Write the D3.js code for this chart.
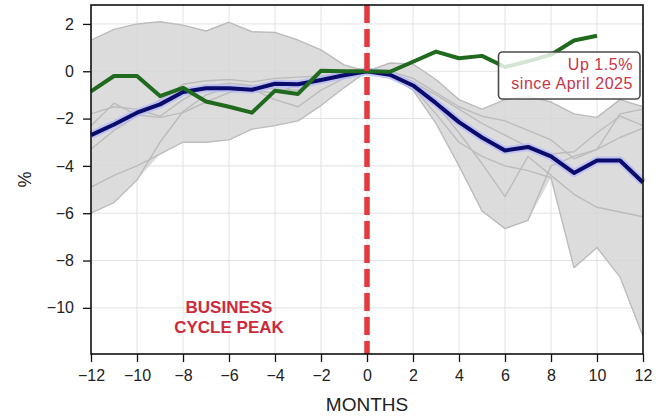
<!DOCTYPE html>
<html>
<head>
<meta charset="utf-8">
<script src="https://cdn.jsdelivr.net/npm/d3@7/dist/d3.min.js"></script>
<style>
  html, body { margin: 0; padding: 0; background: #fff; }
  svg { display: block; font-family: "Liberation Sans", Arial, Helvetica, sans-serif; }
</style>
</head>
<body>
<svg id="chart" width="665" height="416"></svg>
<script>
// Months relative to the business cycle peak
const months = [-12, -11, -10, -9, -8, -7, -6, -5, -4, -3, -2, -1, 0, 1, 2, 3, 4, 5, 6, 7, 8, 9, 10, 11, 12];

// Past cycles, % change from the peak month
const cycleA = [1.32, 1.77, 2.0, 2.09, 1.95, 1.7, 2.07, 1.67, 1.64, 1.32, 0.9, 0.27, 0,
                0.35, 0.3, -0.35, -1.2, -1.6, -1.2, -1.05, -1.3, -1.8, -1.95, -1.2, -1.5];
const cycleB = [-6.0, -5.55, -4.6, -3.0, -1.7, -1.0, -0.7, -0.85, -0.9, -0.6, -0.35, -0.15, 0,
                -0.05, -0.45, -1.0, -1.6, -2.2, -2.7, -3.2, -3.5, -3.4, -2.6, -1.9, -2.3];
const cycleC = [-4.9, -4.4, -4.0, -3.5, -3.0, -3.0, -2.9, -2.45, -2.3, -2.1, -1.45, -0.7, 0,
                -0.2, -0.8, -2.2, -4.0, -5.9, -6.65, -6.3, -4.0, -3.6, -3.3, -2.8, -2.4];
const cycleD = [-2.3, -1.35, -1.85, -1.95, -1.75, -1.3, -0.9, -0.75, -1.2, -1.5, -0.8, -0.3, 0,
                -0.1, -0.55, -1.4, -2.6, -3.9, -5.3, -3.6, -4.4, -5.2, -5.75, -5.95, -6.15];
const cycleE = [-3.3, -2.5, -1.9, -1.2, -0.55, -0.4, -0.35, -0.45, -0.3, -0.25, -0.2, -0.05, 0,
                -0.15, -0.7, -1.8, -3.0, -3.6, -4.0, -4.2, -4.5, -8.3, -7.45, -8.7, -11.2];
const cycleF = [-1.8, -1.5, -1.6, -1.9, -1.2, -0.65, -0.5, -0.6, -0.75, -0.8, -0.45, -0.2, 0,
                0.0, -0.3, -0.9, -1.5, -1.9, -2.1, -2.5, -2.9, -3.7, -3.3, -1.8, -1.6];
const pastCycles = [cycleA, cycleB, cycleC, cycleD, cycleE, cycleF];

// Average of past cycles
const averageCycle = [-2.7, -2.25, -1.75, -1.4, -0.88, -0.72, -0.72, -0.78, -0.53, -0.55, -0.37, -0.17, 0,
                      -0.15, -0.6, -1.35, -2.15, -2.8, -3.35, -3.2, -3.6, -4.3, -3.77, -3.77, -4.7];

// Current cycle (through month 10)
const currentMonths = [-12, -11, -10, -9, -8, -7, -6, -5, -4, -3, -2, -1, 0, 1, 2, 3, 4, 5, 6, 7, 8, 9, 10];
const currentCycle = [-0.85, -0.2, -0.2, -1.05, -0.7, -1.28, -1.5, -1.75, -0.82, -0.96, 0.02, 0, 0,
                      -0.02, 0.4, 0.83, 0.55, 0.65, 0.18, 0.42, 0.7, 1.3, 1.5];

const xTicks = [-12, -10, -8, -6, -4, -2, 0, 2, 4, 6, 8, 10, 12];
const yTicks = [-10, -8, -6, -4, -2, 0, 2];
const peakLabel = ["BUSINESS", "CYCLE PEAK"];
const noteLabel = ["Up 1.5%", "since April 2025"];

const svg = d3.select("#chart");
const plotL = 91, plotR = 643, plotT = 5, plotB = 354;

const x = d3.scaleLinear().domain([-12, 12]).range([plotL, plotR]);
const y = d3.scaleLinear().domain([-11.95, 2.8]).range([plotB, plotT]);

// Grid
const grid = svg.append("g");
grid.selectAll(".gx").data(xTicks).join("line")
  .attr("x1", d => x(d)).attr("x2", d => x(d))
  .attr("y1", plotT).attr("y2", plotB)
  .attr("stroke", "#e2e2e2").attr("stroke-width", 1);
grid.selectAll(".gy").data(yTicks).join("line")
  .attr("x1", plotL).attr("x2", plotR)
  .attr("y1", d => y(d)).attr("y2", d => y(d))
  .attr("stroke", "#e2e2e2").attr("stroke-width", 1);

// Range band of past cycles
const band = months.map((m, i) => ({
  m,
  lo: d3.min(pastCycles, c => c[i]),
  hi: d3.max(pastCycles, c => c[i])
}));
svg.append("path").datum(band)
  .attr("d", d3.area().x(d => x(d.m)).y0(d => y(d.lo)).y1(d => y(d.hi)))
  .attr("fill", "#d6d6d6").attr("fill-opacity", 0.85);

const line = d3.line().x(d => x(d[0])).y(d => y(d[1]));

svg.append("g").selectAll("path").data(pastCycles).join("path")
  .attr("d", c => line(months.map((m, i) => [m, c[i]])))
  .attr("fill", "none").attr("stroke", "#bcbcbc").attr("stroke-width", 1.4)
  .attr("stroke-linejoin", "round");

// Average line with soft halo
const avgPts = months.map((m, i) => [m, averageCycle[i]]);
svg.append("path").attr("d", line(avgPts))
  .attr("fill", "none").attr("stroke", "#b8bcf5").attr("stroke-width", 8)
  .attr("stroke-linejoin", "round").attr("stroke-opacity", 0.8);
svg.append("path").attr("d", line(avgPts))
  .attr("fill", "none").attr("stroke", "#0b0b6b").attr("stroke-width", 4)
  .attr("stroke-linejoin", "round");

// Current cycle
svg.append("path").attr("d", line(currentMonths.map((m, i) => [m, currentCycle[i]])))
  .attr("fill", "none").attr("stroke", "#1f6a1f").attr("stroke-width", 4)
  .attr("stroke-linejoin", "round");

// Peak marker
svg.append("line")
  .attr("x1", x(0)).attr("x2", x(0)).attr("y1", plotT).attr("y2", plotB)
  .attr("stroke", "#e23a3f").attr("stroke-width", 5.5)
  .attr("stroke-dasharray", "18,6");

svg.append("g").selectAll("text").data(peakLabel).join("text")
  .attr("x", x(-6.0)).attr("y", (d, i) => y(-10.2) + i * 20)
  .attr("text-anchor", "middle")
  .attr("font-size", 17).attr("font-weight", "bold")
  .attr("fill", "#cc2a3a")
  .text(d => d);

// Annotation box
const boxX0 = 498.5, boxX1 = 640, boxY0 = 52, boxY1 = 99;
svg.append("rect")
  .attr("x", boxX0).attr("y", boxY0)
  .attr("width", boxX1 - boxX0).attr("height", boxY1 - boxY0)
  .attr("rx", 4)
  .attr("fill", "#fff").attr("fill-opacity", 0.82)
  .attr("stroke", "#4a4a4a").attr("stroke-width", 1.6);
svg.append("g").selectAll("text").data(noteLabel).join("text")
  .attr("x", 633).attr("y", (d, i) => 69.5 + i * 19)
  .attr("text-anchor", "end")
  .attr("font-size", 16).attr("letter-spacing", 0.55)
  .attr("fill", "#c83448")
  .text(d => d);

// Axes
const xAxis = svg.append("g").attr("transform", `translate(0,${plotB})`)
  .call(d3.axisBottom(x).tickValues(xTicks).tickSize(8).tickPadding(8).tickSizeOuter(0));
const yAxis = svg.append("g").attr("transform", `translate(${plotL},0)`)
  .call(d3.axisLeft(y).tickValues(yTicks).tickSize(8).tickPadding(9).tickSizeOuter(0));
[xAxis, yAxis].forEach(a => {
  a.select(".domain").remove();
  a.selectAll(".tick line").attr("stroke", "#111").attr("stroke-width", 1.3);
  a.selectAll(".tick text").attr("fill", "#222").attr("font-size", 16)
    .attr("font-family", "'Liberation Sans', Arial, sans-serif");
});

// Frame
svg.append("rect")
  .attr("x", plotL).attr("y", plotT)
  .attr("width", plotR - plotL).attr("height", plotB - plotT)
  .attr("fill", "none").attr("stroke", "#111").attr("stroke-width", 1.6);

// Axis titles
svg.append("text")
  .attr("x", (plotL + plotR) / 2).attr("y", 411)
  .attr("text-anchor", "middle").attr("font-size", 19).attr("fill", "#222")
  .text("MONTHS");
svg.append("text")
  .attr("transform", `translate(31,${(plotT + plotB) / 2}) rotate(-90)`)
  .attr("text-anchor", "middle").attr("font-size", 18).attr("fill", "#222")
  .text("%");
</script>
</body>
</html>
